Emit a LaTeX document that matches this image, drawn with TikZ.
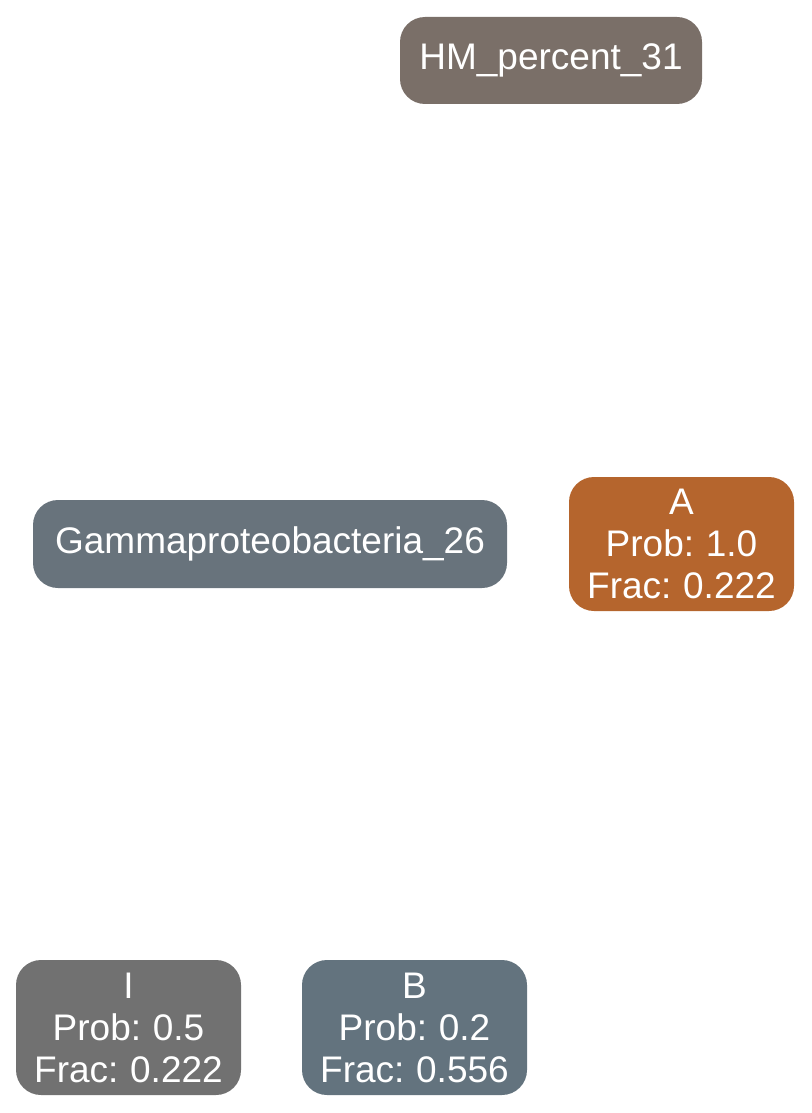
\documentclass[tikz,border=0pt]{standalone}
\usepackage{fontspec}
\setmainfont[WordSpace={0.8,1,1}]{Liberation Sans}
\definecolor{chm}{HTML}{7A6F68}
\definecolor{cgam}{HTML}{68737C}
\definecolor{ca}{HTML}{B5652D}
\definecolor{ci}{HTML}{717171}
\definecolor{cb}{HTML}{63737E}
\tikzset{
  box/.style={rounded corners=25pt, inner sep=0pt, align=center, text=white,
    font=\fontsize{37}{42}\selectfont},
}
\begin{document}
\begin{tikzpicture}[x=1pt,y=-1pt]
\useasboundingbox (0,0) rectangle (811,1113);
\node[box, fill=chm, minimum width=302pt, minimum height=87pt] (hm) at (551,60.5) {HM\_percent\_31};
\node[box, fill=cgam, minimum width=474pt, minimum height=88pt] (gam) at (270,544) {Gammaproteobacteria\_26};
\node[box, fill=ca, minimum width=225pt, minimum height=134pt] (a) at (681.5,544) {A\\Prob: 1.0\\Frac: 0.222};
\node[box, fill=ci, minimum width=225pt, minimum height=135pt] (i) at (128.5,1027.5) {I\\Prob: 0.5\\Frac: 0.222};
\node[box, fill=cb, minimum width=225pt, minimum height=135pt] (b) at (414.5,1027.5) {B\\Prob: 0.2\\Frac: 0.556};
\end{tikzpicture}
\end{document}
